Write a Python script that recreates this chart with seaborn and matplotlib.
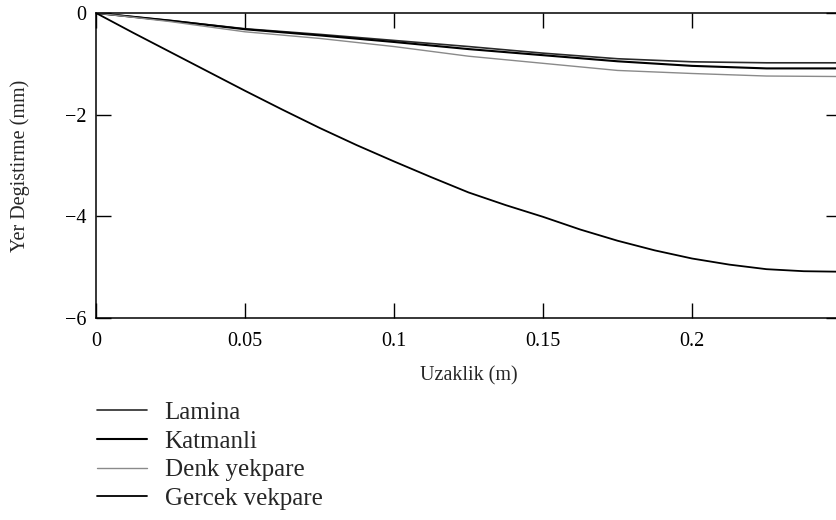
import numpy as np
import pandas as pd
import matplotlib
matplotlib.use("Agg")
import matplotlib.pyplot as plt
import seaborn as sns


# DATA

uzaklik = [0, 0.025, 0.05, 0.075, 0.1, 0.125, 0.15, 0.175, 0.2, 0.225, 0.25]

lamina = [0, -0.15, -0.31, -0.42, -0.54, -0.66, -0.79, -0.90, -0.96, -0.98, -0.98]
katmanli = [0, -0.15, -0.32, -0.44, -0.57, -0.71, -0.83, -0.95, -1.04, -1.09, -1.09]
denk_yekpare = [0, -0.17, -0.37, -0.50, -0.66, -0.85, -0.99, -1.13, -1.19, -1.24, -1.25]

uzaklik_gercek = [0, 0.0125, 0.025, 0.0375, 0.05, 0.0625, 0.075, 0.0875, 0.1,
                  0.1125, 0.125, 0.1375, 0.15, 0.1625, 0.175, 0.1875, 0.2,
                  0.2125, 0.225, 0.2375, 0.25]
gercek_yekpare = [0, -0.39, -0.77, -1.15, -1.53, -1.90, -2.26, -2.60, -2.92,
                  -3.23, -3.53, -3.78, -4.01, -4.26, -4.48, -4.67, -4.83,
                  -4.95, -5.04, -5.08, -5.09]

labels = ["Lamina", "Katmanli", "Denk yekpare", "Gercek vekpare"]

x_ticks = [0, 0.05, 0.1, 0.15, 0.2]
x_ticklabels = ["0", "0.05", "0.1", "0.15", "0.2"]
y_ticks = [0, -2, -4, -6]


# STYLE

sns.set_style("ticks")
plt.rcParams["font.family"] = ["Liberation Serif", "DejaVu Serif"]
plt.rcParams["axes.linewidth"] = 1.1


# PLOT

fig = plt.figure(figsize=(8.37, 5.2), dpi=100)
ax = fig.add_axes([0.1147, 0.3885, 0.8901, 0.5865])

series = [
    (uzaklik, lamina),
    (uzaklik, katmanli),
    (uzaklik, denk_yekpare),
    (uzaklik_gercek, gercek_yekpare)
]
colors = ["#2a2a2a", "black", "#8a8a8a", "black"]
widths = [1.2, 1.5, 1.0, 1.3]

for (xs, values), label, color, lw in zip(series, labels, colors, widths):
    sns.lineplot(
        x=xs,
        y=values,
        ax=ax,
        color=color,
        linewidth=lw,
        label=label
    )

ax.set_xlim(0, 0.25)
ax.set_ylim(-6, 0)

ax.set_xticks(x_ticks)
ax.set_xticklabels(x_ticklabels)
ax.set_yticks(y_ticks)

ax.tick_params(
    direction="in",
    length=11,
    width=1,
    top=True,
    right=True,
    labelsize=14.5,
    colors="black"
)
ax.tick_params(axis="x", pad=10)
ax.tick_params(axis="y", pad=7)

for side in ["top", "right", "left", "bottom"]:
    ax.spines[side].set_visible(True)
    ax.spines[side].set_color("black")

ax.set_xlabel("Uzaklik (m)", fontsize=14.5, labelpad=11)
ax.set_ylabel("Yer Degistirme (mm)", fontsize=14.5, labelpad=25)

ax.get_legend().remove()
handles, leg_labels = ax.get_legend_handles_labels()

fig.legend(
    handles,
    leg_labels,
    loc="upper left",
    bbox_to_anchor=(0.116, 0.228),
    frameon=False,
    fontsize=18,
    handlelength=2.0,
    handletextpad=0.7,
    labelspacing=0.25,
    borderpad=0,
    borderaxespad=0
)

fig.savefig("out.png", dpi=100)
